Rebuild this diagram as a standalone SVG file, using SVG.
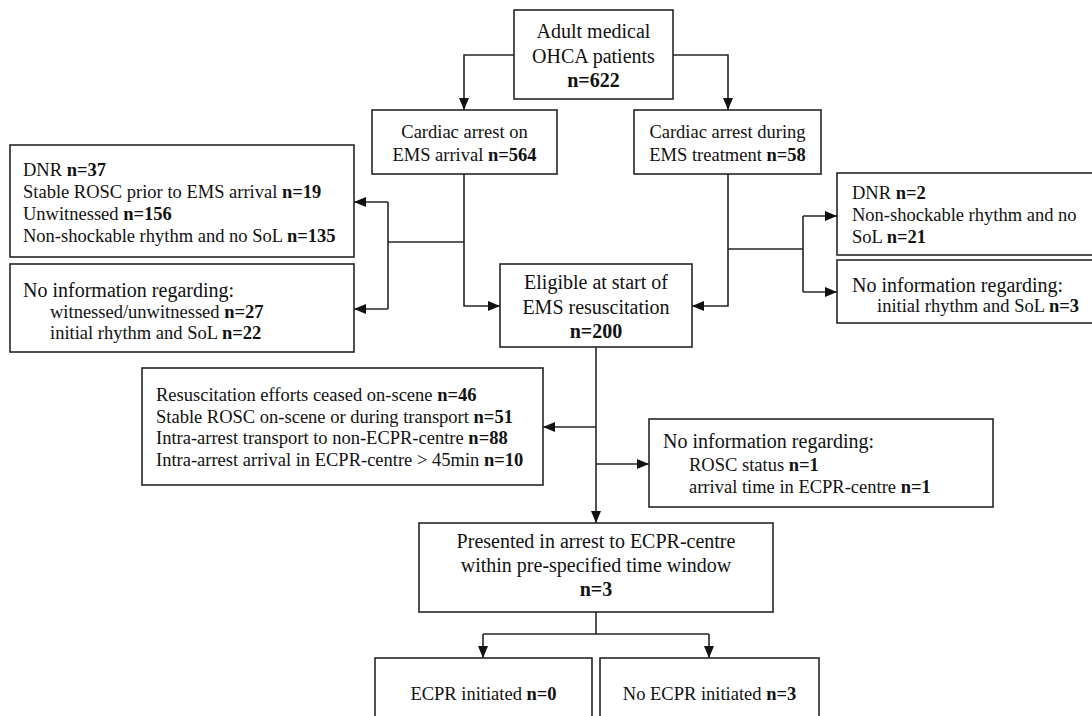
<svg xmlns="http://www.w3.org/2000/svg" width="1092" height="716" viewBox="0 0 1092 716">
<style>
.box{fill:#fff;stroke:#262626;stroke-width:1.6}
.ln{fill:none;stroke:#262626;stroke-width:1.6}
text{font-family:"Liberation Serif","Times New Roman",serif;fill:#111;font-size:18.5px}
.h{font-size:20px}
.c{text-anchor:middle}
.b{font-weight:bold}
</style>
<defs>
<marker id="ah" viewBox="0 0 12 10" refX="12" refY="5" markerWidth="12" markerHeight="10" markerUnits="userSpaceOnUse" orient="auto">
<path d="M0,0 L12,5 L0,10 Z" fill="#111"/>
</marker>
</defs>
<g id="connectors">
<path class="ln" d="M514,55 H464 V110" marker-end="url(#ah)"/>
<path class="ln" d="M673,55 H728 V110" marker-end="url(#ah)"/>
<path class="ln" d="M464,174 V306 H500" marker-end="url(#ah)"/>
<path class="ln" d="M464,242 H388"/>
<path class="ln" d="M388,202 V309"/>
<path class="ln" d="M388,202 H354" marker-end="url(#ah)"/>
<path class="ln" d="M388,309 H354" marker-end="url(#ah)"/>
<path class="ln" d="M728,174 V306 H692" marker-end="url(#ah)"/>
<path class="ln" d="M728,249 H803"/>
<path class="ln" d="M803,216 V292"/>
<path class="ln" d="M803,216 H837" marker-end="url(#ah)"/>
<path class="ln" d="M803,292 H837" marker-end="url(#ah)"/>
<path class="ln" d="M596,347 V523" marker-end="url(#ah)"/>
<path class="ln" d="M596,427 H543" marker-end="url(#ah)"/>
<path class="ln" d="M596,464 H649" marker-end="url(#ah)"/>
<path class="ln" d="M596,612 V634"/>
<path class="ln" d="M483,634 H709"/>
<path class="ln" d="M483,634 V658" marker-end="url(#ah)"/>
<path class="ln" d="M709,634 V658" marker-end="url(#ah)"/>
</g>
<g id="n-adult">
<rect class="box" x="514" y="10" width="159" height="89"/>
<text class="h c" x="593.5" y="38">Adult medical</text>
<text class="h c" x="593.5" y="63">OHCA patients</text>
<text class="h c b" x="593.5" y="87">n=622</text>
</g>
<g id="n-onarrival">
<rect class="box" x="372" y="110" width="185" height="64"/>
<text class="c" x="464.5" y="138">Cardiac arrest on</text>
<text class="c" x="464.5" y="161">EMS arrival <tspan class="b">n=564</tspan></text>
</g>
<g id="n-during">
<rect class="box" x="634" y="110" width="187" height="64"/>
<text class="c" x="727.5" y="138">Cardiac arrest during</text>
<text class="c" x="727.5" y="161">EMS treatment <tspan class="b">n=58</tspan></text>
</g>
<g id="n-excl-left">
<rect class="box" x="10" y="145" width="344" height="112"/>
<text x="23" y="176">DNR <tspan class="b">n=37</tspan></text>
<text x="23" y="198">Stable ROSC prior to EMS arrival <tspan class="b">n=19</tspan></text>
<text x="23" y="220">Unwitnessed <tspan class="b">n=156</tspan></text>
<text x="23" y="242">Non-shockable rhythm and no SoL <tspan class="b">n=135</tspan></text>
</g>
<g id="n-noinfo-left">
<rect class="box" x="10" y="264" width="344" height="88"/>
<text class="h" x="23" y="297">No information regarding:</text>
<text x="50" y="318">witnessed/unwitnessed <tspan class="b">n=27</tspan></text>
<text x="50" y="339">initial rhythm and SoL <tspan class="b">n=22</tspan></text>
</g>
<g id="n-eligible">
<rect class="box" x="500" y="264" width="192" height="83"/>
<text class="h c" x="596" y="289">Eligible at start of</text>
<text class="h c" x="596" y="314">EMS resuscitation</text>
<text class="h c b" x="596" y="338">n=200</text>
</g>
<g id="n-excl-right">
<rect class="box" x="837" y="173" width="270" height="82"/>
<text x="852" y="199">DNR <tspan class="b">n=2</tspan></text>
<text x="852" y="221">Non-shockable rhythm and no</text>
<text x="852" y="243">SoL <tspan class="b">n=21</tspan></text>
</g>
<g id="n-noinfo-right">
<rect class="box" x="837" y="260" width="270" height="63"/>
<text class="h" x="852" y="292">No information regarding:</text>
<text x="877" y="312">initial rhythm and SoL <tspan class="b">n=3</tspan></text>
</g>
<g id="n-excl-lower">
<rect class="box" x="142" y="368" width="401" height="117"/>
<text x="156" y="401">Resuscitation efforts ceased on-scene <tspan class="b">n=46</tspan></text>
<text x="156" y="423">Stable ROSC on-scene or during transport <tspan class="b">n=51</tspan></text>
<text x="156" y="444">Intra-arrest transport to non-ECPR-centre <tspan class="b">n=88</tspan></text>
<text x="156" y="466">Intra-arrest arrival in ECPR-centre &gt; 45min <tspan class="b">n=10</tspan></text>
</g>
<g id="n-noinfo-lower">
<rect class="box" x="649" y="419" width="344" height="88"/>
<text class="h" x="663" y="448">No information regarding:</text>
<text x="689" y="471">ROSC status <tspan class="b">n=1</tspan></text>
<text x="689" y="493">arrival time in ECPR-centre <tspan class="b">n=1</tspan></text>
</g>
<g id="n-presented">
<rect class="box" x="419" y="523" width="354" height="89"/>
<text class="h c" x="596" y="548">Presented in arrest to ECPR-centre</text>
<text class="h c" x="596" y="572">within pre-specified time window</text>
<text class="h c b" x="596" y="596">n=3</text>
</g>
<g id="n-ecpr">
<rect class="box" x="375" y="658" width="217" height="80"/>
<text class="c" x="483.5" y="700">ECPR initiated <tspan class="b">n=0</tspan></text>
</g>
<g id="n-noecpr">
<rect class="box" x="600" y="658" width="219" height="80"/>
<text class="c" x="709.5" y="700">No ECPR initiated <tspan class="b">n=3</tspan></text>
</g>
</svg>
